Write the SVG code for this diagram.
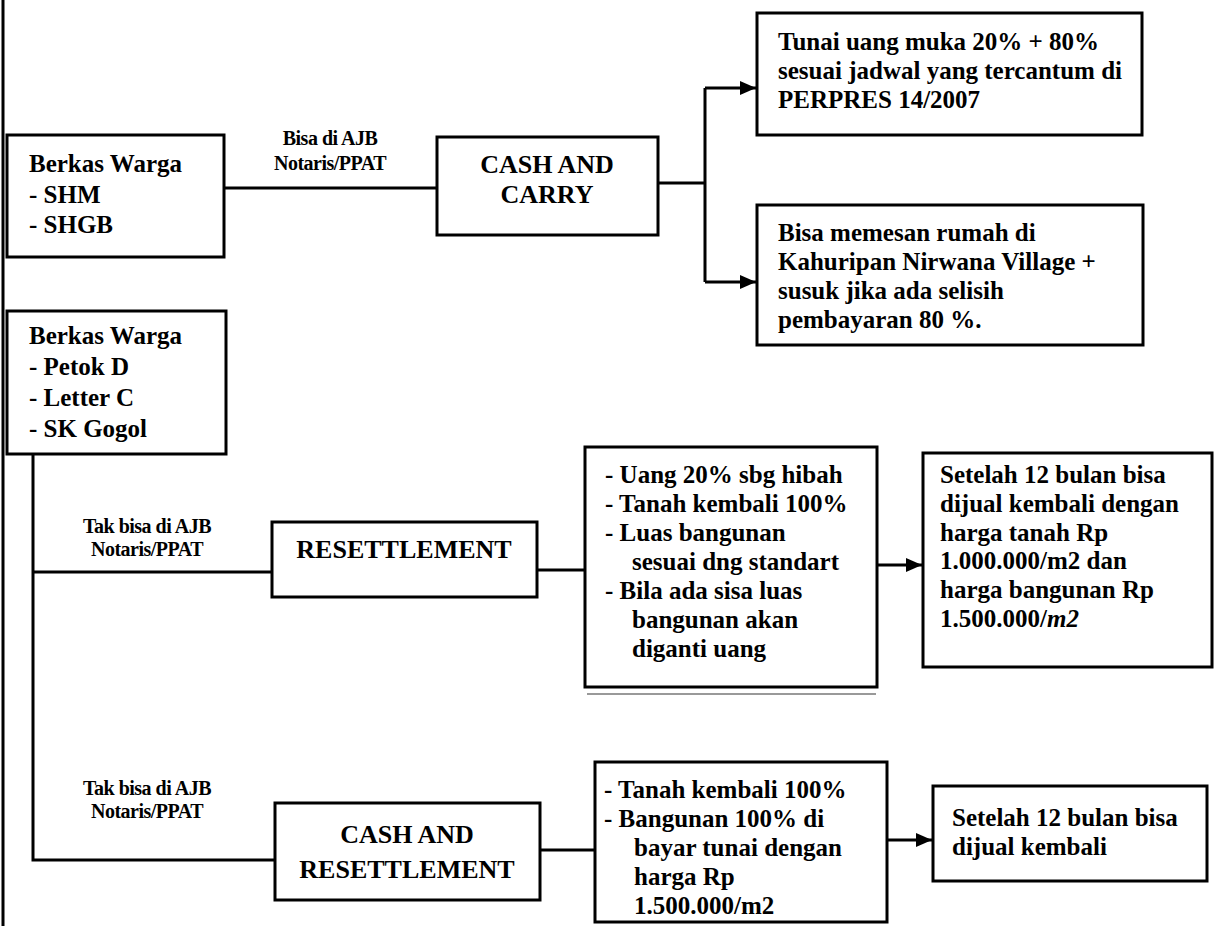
<svg xmlns="http://www.w3.org/2000/svg" width="1229" height="926" viewBox="0 0 1229 926">
<defs>
<marker id="arr" markerUnits="userSpaceOnUse" markerWidth="18" markerHeight="14" refX="16" refY="7" orient="auto">
<path d="M0,0 L16,7 L0,14 Z" fill="#000"/>
</marker>
<style>
.box{fill:#fff;stroke:#000;stroke-width:3}
.c{fill:none;stroke:#000;stroke-width:3}
.t{font-family:"Liberation Serif","Times New Roman",serif;font-weight:bold;font-size:25px;fill:#000}
.ttl{font-family:"Liberation Serif","Times New Roman",serif;font-weight:bold;font-size:26px;fill:#000;text-anchor:middle}
.lbl{font-family:"Liberation Serif","Times New Roman",serif;font-weight:bold;font-size:20px;fill:#000;text-anchor:middle;letter-spacing:-0.5px}
</style>
</defs>
<rect width="1229" height="926" fill="#fff"/>
<g id="connectors">
<path class="c" d="M3,0 V926"/>
<path class="c" d="M224,188 H437"/>
<path class="c" d="M658,183 H705 M705,88 V282"/>
<path class="c" d="M705,88 H756" marker-end="url(#arr)"/>
<path class="c" d="M705,282 H756" marker-end="url(#arr)"/>
<path class="c" d="M33,454 V860 H275 M33,572 H272"/>
<path class="c" d="M537,570 H585"/>
<path class="c" d="M877,565 H922" marker-end="url(#arr)"/>
<path class="c" d="M540,850 H595"/>
<path class="c" d="M887,840 H932" marker-end="url(#arr)"/>
<path d="M587,694 H876" stroke="#777" stroke-width="1.5" fill="none"/>
</g>
<g id="label-bisa">
<text class="lbl" x="330" y="145">Bisa di AJB</text>
<text class="lbl" x="330" y="170">Notaris/PPAT</text>
</g>
<g id="label-tak1">
<text class="lbl" x="147" y="533">Tak bisa di AJB</text>
<text class="lbl" x="147" y="556">Notaris/PPAT</text>
</g>
<g id="label-tak2">
<text class="lbl" x="147" y="795">Tak bisa di AJB</text>
<text class="lbl" x="147" y="818">Notaris/PPAT</text>
</g>
<g id="berkas-shm">
<rect class="box" x="7" y="135" width="217" height="122"/>
<text class="t" x="29" y="172">Berkas Warga</text>
<text class="t" x="29" y="203">- SHM</text>
<text class="t" x="29" y="233">- SHGB</text>
</g>
<g id="cash-carry">
<rect class="box" x="437" y="137" width="221" height="98"/>
<text class="ttl" x="547" y="173">CASH AND</text>
<text class="ttl" x="547" y="203">CARRY</text>
</g>
<g id="tunai">
<rect class="box" x="757" y="13" width="385" height="122"/>
<text class="t" x="778" y="50">Tunai uang muka 20% + 80%</text>
<text class="t" x="778" y="79">sesuai jadwal yang tercantum di</text>
<text class="t" x="778" y="108">PERPRES 14/2007</text>
</g>
<g id="bisa-memesan">
<rect class="box" x="757" y="205" width="386" height="140"/>
<text class="t" x="778" y="241">Bisa memesan rumah di</text>
<text class="t" x="778" y="270">Kahuripan Nirwana Village +</text>
<text class="t" x="778" y="299">susuk jika ada selisih</text>
<text class="t" x="778" y="328">pembayaran 80 %.</text>
</g>
<g id="berkas-petok">
<rect class="box" x="7" y="311" width="219" height="143"/>
<text class="t" x="29" y="344">Berkas Warga</text>
<text class="t" x="29" y="375">- Petok D</text>
<text class="t" x="29" y="406">- Letter C</text>
<text class="t" x="29" y="437">- SK Gogol</text>
</g>
<g id="resettlement">
<rect class="box" x="272" y="522" width="265" height="75"/>
<text class="ttl" x="404" y="558">RESETTLEMENT</text>
</g>
<g id="resettlement-detail">
<rect class="box" x="585" y="447" width="292" height="240"/>
<text class="t" x="605" y="483">- Uang 20% sbg hibah</text>
<text class="t" x="605" y="512">- Tanah kembali 100%</text>
<text class="t" x="605" y="541">- Luas bangunan</text>
<text class="t" x="632" y="570">sesuai dng standart</text>
<text class="t" x="605" y="599">- Bila ada sisa luas</text>
<text class="t" x="632" y="628">bangunan akan</text>
<text class="t" x="632" y="657">diganti uang</text>
</g>
<g id="setelah-1">
<rect class="box" x="923" y="453" width="289" height="214"/>
<text class="t" x="940" y="483">Setelah 12 bulan bisa</text>
<text class="t" x="940" y="512">dijual kembali dengan</text>
<text class="t" x="940" y="541">harga tanah Rp</text>
<text class="t" x="940" y="569">1.000.000/m2 dan</text>
<text class="t" x="940" y="598">harga bangunan Rp</text>
<text class="t" x="940" y="627">1.500.000/<tspan font-style="italic">m2</tspan></text>
</g>
<g id="cash-resettlement">
<rect class="box" x="275" y="803" width="265" height="97"/>
<text class="ttl" x="407" y="843">CASH AND</text>
<text class="ttl" x="407" y="878">RESETTLEMENT</text>
</g>
<g id="cash-resettlement-detail">
<rect class="box" x="595" y="762" width="292" height="160"/>
<text class="t" x="604" y="798">- Tanah kembali 100%</text>
<text class="t" x="604" y="827">-  Bangunan 100% di</text>
<text class="t" x="634" y="856">bayar tunai dengan</text>
<text class="t" x="634" y="885">harga Rp</text>
<text class="t" x="634" y="914">1.500.000/m2</text>
</g>
<g id="setelah-2">
<rect class="box" x="933" y="786" width="274" height="95"/>
<text class="t" x="952" y="826">Setelah 12 bulan bisa</text>
<text class="t" x="952" y="855">dijual kembali</text>
</g>
</svg>
